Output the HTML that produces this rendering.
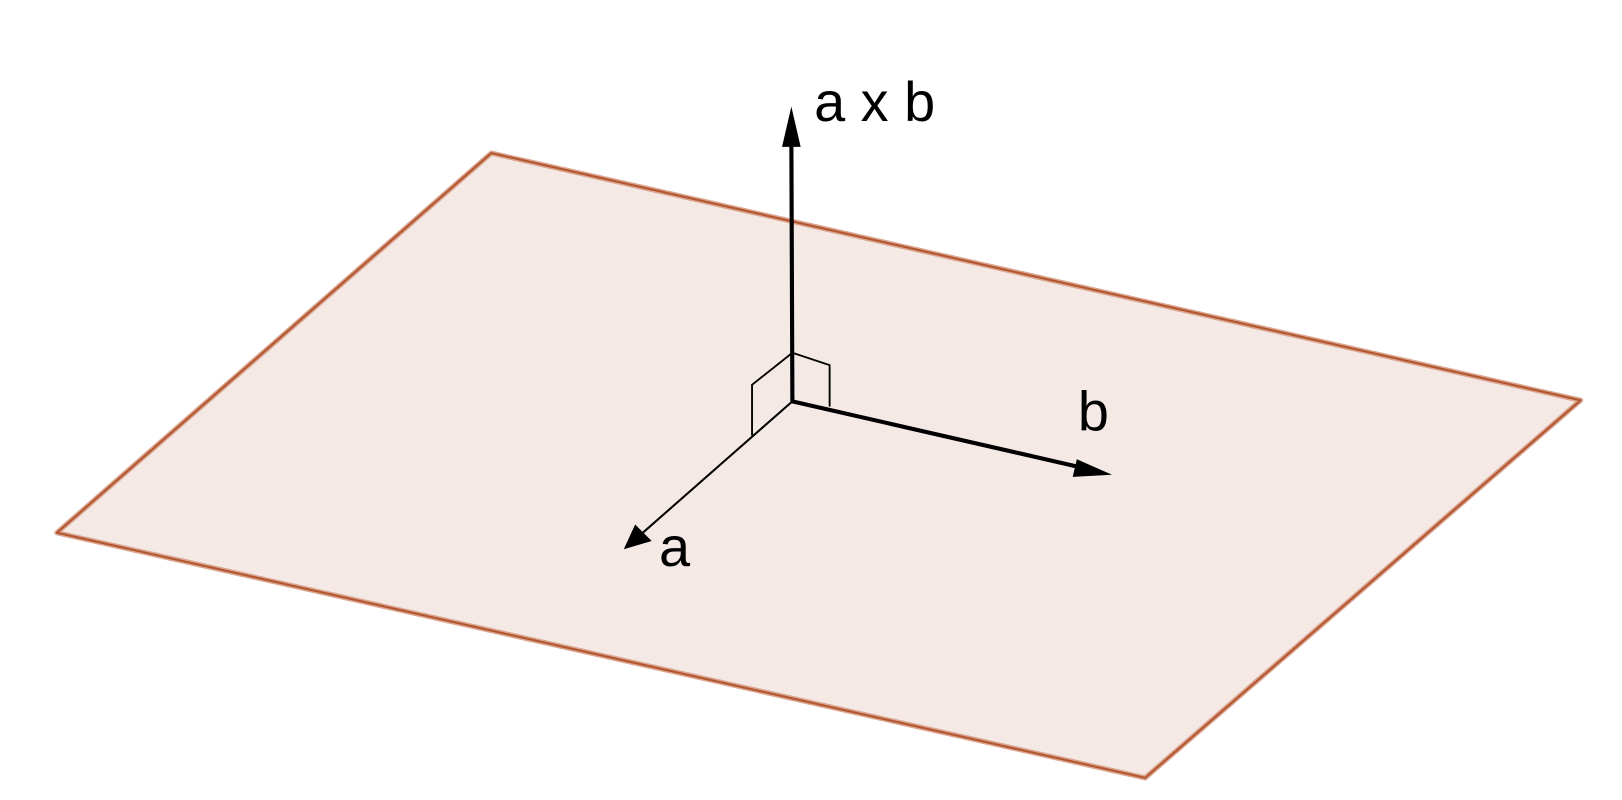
<!DOCTYPE html>
<html>
<head>
<meta charset="utf-8">
<style>
  html,body{margin:0;padding:0;background:#fff;}
  svg{display:block;}
  text{font-family:"Liberation Sans",sans-serif;fill:#000;}
</style>
</head>
<body>
<svg width="1622" height="800" viewBox="0 0 1568 773.4">
  <polygon points="475,148 1528,387 1107,752 55,515" fill="#f5e9e5" stroke="#d9a48e" stroke-width="5" stroke-linejoin="round"/>
  <polygon points="475,148 1528,387 1107,752 55,515" fill="none" stroke="#b3552f" stroke-width="2" stroke-linejoin="round"/>

  <g fill="none" stroke="#000" stroke-width="1.8">
    <polyline points="766,341 727,372 727,421"/>
    <polyline points="766,341 802,353 802,393"/>
  </g>

  <g>
    <line x1="766" y1="388" x2="618" y2="518" stroke="#000" stroke-width="2"/>
    <polygon points="603,531 614,507 630,523" fill="#000"/>
  </g>
  <g>
    <line x1="766" y1="388" x2="1050" y2="453" stroke="#000" stroke-width="4"/>
    <polygon points="1075,459 1041,444 1037,461" fill="#000"/>
  </g>
  <g>
    <line x1="766" y1="388" x2="765" y2="132" stroke="#000" stroke-width="4"/>
    <polygon points="765,103 756,142 774,142" fill="#000"/>
  </g>

  <text x="787" y="117" font-size="54">a x b</text>
  <text x="1042" y="416" font-size="54">b</text>
  <text x="637" y="547" font-size="54">a</text>
</svg>
</body>
</html>
